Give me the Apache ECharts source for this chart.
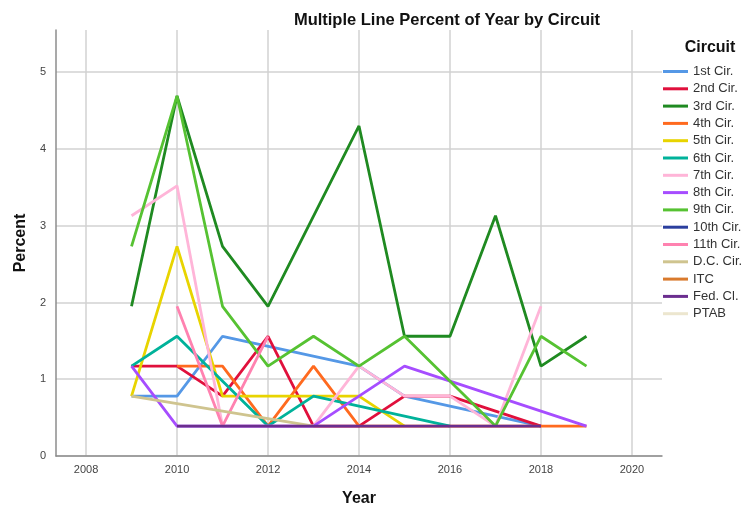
<!DOCTYPE html>
<html>
<head>
<meta charset="utf-8">
<script src="https://cdn.jsdelivr.net/npm/echarts@6/dist/echarts.min.js"></script>
<style>
  html, body { margin: 0; padding: 0; background: #fff; }
  #chart { width: 744px; height: 508px; }
</style>
</head>
<body>
<div id="chart"></div>
<script>
// years on the x axis
const years = [2009, 2010, 2011, 2012, 2013, 2014, 2015, 2016, 2017, 2018, 2019]
const xTicks = [2008, 2010, 2012, 2014, 2016, 2018, 2020]
const yTicks = [0, 1, 2, 3, 4, 5]

// percent per circuit, null = no case that year (line is joined across)
const cir1st = [0.78, 0.78, 1.56, null, null, 1.17, 0.78, null, null, 0.39, null]
const cir2nd = [1.17, 1.17, 0.78, 1.56, 0.39, 0.39, 0.78, 0.78, null, 0.39, null]
const cir3rd = [1.95, 4.69, 2.73, 1.95, null, 4.30, 1.56, 1.56, 3.13, 1.17, 1.56]
const cir4th = [null, 1.17, 1.17, 0.39, 1.17, 0.39, 0.39, 0.39, 0.39, 0.39, 0.39]
const cir5th = [0.78, 2.73, 0.78, 0.78, 0.78, 0.78, 0.39, null, null, null, null]
const cir6th = [1.17, 1.56, null, 0.39, 0.78, null, null, 0.39, null, null, null]
const cir7th = [3.13, 3.52, 0.39, 0.39, 0.39, 1.17, 0.78, 0.78, 0.39, 1.95, null]
const cir8th = [1.17, 0.39, 0.39, 0.39, 0.39, 0.78, 1.17, null, null, null, 0.39]
const cir9th = [2.73, 4.69, 1.95, 1.17, 1.56, 1.17, 1.56, null, 0.39, 1.56, 1.17]
const cir10th = [null, null, null, null, null, 0.39, null, null, null, null, null]
const cir11th = [null, 1.95, 0.39, 1.56, null, null, null, null, null, null, null]
const cirDC = [0.78, null, null, null, 0.39, null, null, null, null, null, null]
const cirITC = [null, null, null, null, null, null, null, 0.39, null, null, null]
const cirFed = [null, 0.39, 0.39, 0.39, 0.39, 0.39, 0.39, 0.39, 0.39, 0.39, null]
const cirPTAB = [null, null, null, null, null, null, null, null, 0.39, null, null]

const circuits = [
  { name: '1st Cir.', data: cir1st, color: '#5598e6' },
  { name: '2nd Cir.', data: cir2nd, color: '#e0103c' },
  { name: '3rd Cir.', data: cir3rd, color: '#1f8a21' },
  { name: '4th Cir.', data: cir4th, color: '#ff6a1f' },
  { name: '5th Cir.', data: cir5th, color: '#e8d400' },
  { name: '6th Cir.', data: cir6th, color: '#00b29a' },
  { name: '7th Cir.', data: cir7th, color: '#ffb5d8' },
  { name: '8th Cir.', data: cir8th, color: '#a64dff' },
  { name: '9th Cir.', data: cir9th, color: '#56c232' },
  { name: '10th Cir.', data: cir10th, color: '#2b3f9e' },
  { name: '11th Cir.', data: cir11th, color: '#ff82b0' },
  { name: 'D.C. Cir.', data: cirDC, color: '#cfc48f' },
  { name: 'ITC', data: cirITC, color: '#d97a2d' },
  { name: 'Fed. Cl.', data: cirFed, color: '#6b2e8f' },
  { name: 'PTAB', data: cirPTAB, color: '#ece6cf' }
]

const font = 'Liberation Sans, Arial, sans-serif'

const chart = echarts.init(document.getElementById('chart'))
chart.setOption({
  animation: false,
  title: [
    {
      text: 'Multiple Line Percent of Year by Circuit',
      left: 442, top: 7, textAlign: 'center',
      textStyle: { fontFamily: font, fontSize: 16.5, fontWeight: 'bold', color: '#111' }
    },
    {
      text: 'Circuit',
      left: 705, top: 35, textAlign: 'center',
      textStyle: { fontFamily: font, fontSize: 16, fontWeight: 'bold', color: '#111' }
    }
  ],
  legend: {
    orient: 'vertical',
    left: 663, top: 64.5,
    padding: 0,
    icon: 'rect',
    itemWidth: 25, itemHeight: 3,
    itemGap: 3.3,
    textStyle: { fontFamily: font, fontSize: 13, lineHeight: 14, color: '#333' },
    data: circuits.map(c => c.name)
  },
  grid: { left: 56, right: 82, top: 30, bottom: 52, outerBoundsMode: 'none', containLabel: false },
  xAxis: {
    type: 'value',
    min: 2007.34, max: 2020.66,
    name: 'Year', nameLocation: 'middle', nameGap: 35,
    nameTextStyle: { fontFamily: font, fontSize: 16, fontWeight: 'bold', color: '#111' },
    axisLine: { lineStyle: { color: '#8c8c8c', width: 1.5 } },
    axisTick: { show: false, customValues: xTicks },
    axisLabel: {
      customValues: xTicks, fontFamily: font, fontSize: 11, color: '#444', margin: 8,
      formatter: v => String(v)
    },
    splitLine: { show: true, lineStyle: { color: '#d2d2d2', width: 1.5 } }
  },
  yAxis: {
    type: 'value',
    min: 0, max: 5.55,
    name: 'Percent', nameLocation: 'middle', nameGap: 27, nameRotate: 90,
    nameTextStyle: { fontFamily: font, fontSize: 16, fontWeight: 'bold', color: '#111' },
    axisLine: { show: true, lineStyle: { color: '#8c8c8c', width: 1.5 } },
    axisTick: { show: false, customValues: yTicks },
    axisLabel: { customValues: yTicks, fontFamily: font, fontSize: 11, color: '#444', margin: 10 },
    splitLine: { show: true, lineStyle: { color: '#d2d2d2', width: 1.5 } }
  },
  series: circuits.map(c => ({
    name: c.name,
    type: 'line',
    data: years.map((y, i) => [y, c.data[i]]),
    connectNulls: true,
    showSymbol: false,
    symbol: 'none',
    color: c.color,
    lineStyle: { color: c.color, width: 2.8 },
    emphasis: { disabled: true }
  }))
})
</script>
</body>
</html>
